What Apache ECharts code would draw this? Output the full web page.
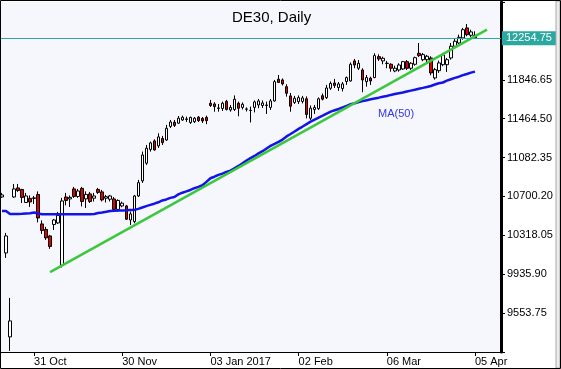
<!DOCTYPE html>
<html><head><meta charset="utf-8">
<script src="https://cdn.jsdelivr.net/npm/echarts@6/dist/echarts.min.js"></script>
<style>html,body{margin:0;padding:0;background:#fff}#c{width:561px;height:369px}</style>
</head><body><div id="c"></div>
<script>
const categories = [
'2016-10-19','2016-10-20','2016-10-21','2016-10-24','2016-10-25','2016-10-26','2016-10-27','2016-10-28','2016-10-31',
'2016-11-01','2016-11-02','2016-11-03','2016-11-04','2016-11-07','2016-11-08','2016-11-09','2016-11-10','2016-11-11',
'2016-11-14','2016-11-15','2016-11-16','2016-11-17','2016-11-18','2016-11-21','2016-11-22','2016-11-23','2016-11-24',
'2016-11-25','2016-11-28','2016-11-29','2016-11-30',
'2016-12-01','2016-12-02','2016-12-05','2016-12-06','2016-12-07','2016-12-08','2016-12-09','2016-12-12','2016-12-13',
'2016-12-14','2016-12-15','2016-12-16','2016-12-19','2016-12-20','2016-12-21','2016-12-22','2016-12-23','2016-12-27',
'2016-12-28','2016-12-29','2016-12-30',
'2017-01-03','2017-01-04','2017-01-05','2017-01-06','2017-01-09','2017-01-10','2017-01-11','2017-01-12','2017-01-13',
'2017-01-16','2017-01-17','2017-01-18','2017-01-19','2017-01-20','2017-01-23','2017-01-24','2017-01-25','2017-01-26',
'2017-01-27','2017-01-30','2017-01-31',
'2017-02-01','2017-02-02','2017-02-03','2017-02-06','2017-02-07','2017-02-08','2017-02-09','2017-02-10','2017-02-13',
'2017-02-14','2017-02-15','2017-02-16','2017-02-17','2017-02-20','2017-02-21','2017-02-22','2017-02-23','2017-02-24',
'2017-02-27','2017-02-28',
'2017-03-01','2017-03-02','2017-03-03','2017-03-06','2017-03-07','2017-03-08','2017-03-09','2017-03-10','2017-03-13',
'2017-03-14','2017-03-15','2017-03-16','2017-03-17','2017-03-20','2017-03-21','2017-03-22','2017-03-23','2017-03-24',
'2017-03-27','2017-03-28','2017-03-29','2017-03-30','2017-03-31',
'2017-04-03','2017-04-04','2017-04-05','2017-04-06','2017-04-07','2017-04-10','2017-04-11','2017-04-12','2017-04-13'
];
const tickLabels = {
  '2016-10-31':'31 Oct','2016-11-30':'30 Nov','2017-01-03':'03 Jan 2017',
  '2017-02-02':'02 Feb','2017-03-06':'06 Mar','2017-04-05':'05 Apr'
};
const openVals = [10695,10145,9320,10695,10784,10769,10641,10681,10681,10720,10430,10376,10312,10425,10440,10022,10695,10676,10774,10700,
10779,10676,10725,10683,10769,10745,10683,10673,10676,10573,10607,10607,10469,10453,10705,10853,11027,11162,11246,11197,
11270,11255,11388,11429,11420,11452,11457,11427,11435,11479,11467,11477,11616,11609,11565,11565,11634,11550,11555,11616,
11575,11557,11545,11575,11599,11594,11594,11575,11639,11852,11845,11779,11688,11624,11632,11634,11660,11469,11555,11563,
11690,11671,11763,11815,11771,11761,11830,11835,12032,11960,11943,11828,11862,11868,12074,12032,12007,11999,11933,11943,
11953,12025,11960,11999,12107,12044,12044,12061,11865,11936,11995,11995,12061,12176,12208,12258,12356,12284,12284];
const closeVals = [10715,10312,9477,10774,10759,10691,10705,10646,10686,10489,10366,10293,10209,10469,10514,10656,10661,10691,10700,10754,
10651,10720,10651,10705,10740,10666,10698,10705,10573,10661,10634,10476,10528,10705,10836,11108,11174,11226,11157,11285,
11229,11370,11432,11398,11469,11479,11462,11477,11469,11445,11442,11445,11594,11583,11570,11616,11555,11575,11655,11567,
11606,11560,11547,11629,11639,11619,11599,11639,11828,11820,11806,11714,11587,11665,11671,11668,11506,11567,11575,11660,
11656,11766,11811,11791,11806,11806,11868,11999,11992,12009,11845,11868,11835,12084,12051,12058,12009,11960,11960,11992,
12025,11960,12009,12064,12084,12094,12078,11914,11946,12012,12091,12044,12176,12225,12264,12339,12290,12317,12254.75];
const lowVals = [10686,10096,9182,10686,10745,10636,10636,10597,10627,10445,10332,10273,10185,10371,10430,10003,10612,10597,10686,10686,
10602,10587,10636,10651,10725,10651,10641,10651,10561,10551,10594,10469,10420,10437,10695,10833,11010,11141,11150,11177,
11206,11246,11373,11383,11413,11442,11432,11413,11422,11432,11422,11410,11580,11533,11533,11540,11545,11533,11540,11488,
11555,11535,11427,11526,11567,11570,11511,11550,11632,11815,11791,11681,11533,11609,11609,11614,11467,11452,11511,11550,
11644,11658,11747,11766,11737,11732,11796,11828,11960,11943,11724,11779,11796,11862,12032,11999,11960,11926,11921,11926,
11943,11943,11943,11985,12071,12029,12022,11891,11848,11914,11980,11924,12044,12166,12192,12241,12274,12264,12251];
const highVals = [10735,10342,9703,10823,10823,10774,10735,10710,10705,10750,10465,10401,10322,10479,10548,10686,10735,10710,10794,10774,
10794,10750,10745,10735,10784,10764,10715,10715,10695,10671,10649,10617,10551,10715,10863,11141,11206,11239,11262,11321,
11295,11403,11452,11452,11491,11494,11484,11484,11481,11491,11481,11494,11649,11626,11609,11632,11649,11599,11693,11632,
11624,11575,11583,11644,11658,11644,11632,11658,11845,11894,11860,11803,11717,11688,11693,11688,11683,11594,11599,11673,
11712,11796,11830,11855,11825,11825,11879,12017,12051,12041,11960,11894,11877,12107,12097,12074,12032,12009,11985,12009,
12032,12041,12019,12074,12208,12110,12091,12078,11963,12035,12110,12061,12208,12251,12290,12356,12395,12339,12323];
const ma50 = [10558,10558,10528,10528,10528,10530,10533,10535,10543,10533,10526,10526,10526,10526,10526,10526,10526,10526,10526,10526,
10526,10526,10526,10528,10538,10543,10550,10558,10560,10561,10563,10565,10568,10568,10578,10592,10605,10617,10629,10643,
10661,10671,10686,10695,10720,10737,10750,10764,10781,10794,10810,10843,10879,10894,10912,10925,10941,10954,10977,11000,
11025,11053,11076,11098,11123,11145,11172,11197,11216,11236,11259,11290,11314,11339,11364,11387,11411,11435,11455,11475,
11494,11514,11534,11547,11560,11575,11590,11606,11616,11627,11637,11646,11655,11663,11671,11680,11688,11698,11706,11714,
11722,11731,11740,11749,11759,11767,11776,11786,11800,11812,11820,11838,11852,11865,11877,11892,11904,11917,11927];
const trendIdx = [12, 121];
const trendVals = [9956, 12340];
const lastPrice = 12254.75;
const yMin = 9171.6, yMax = 12610.95, yStep = 382.15;

const candleData = openVals.map((o, i) => [o, closeVals[i], lowVals[i], highVals[i]]);
const trendData = categories.map(() => null);
trendIdx.forEach((k, j) => { trendData[k] = trendVals[j]; });
const FONT = 'Liberation Sans, Arial, sans-serif';
const isTick = (i) => tickLabels[categories[i]] !== undefined;

const chart = echarts.init(document.getElementById('c'), null, {renderer: 'canvas'});
chart.setOption({
  backgroundColor: '#ffffff',
  animation: false,
  title: {
    text: 'DE30, Daily', left: 227, top: 5,
    textStyle: {fontSize: 15, fontWeight: 'normal', color: '#000', fontFamily: FONT}
  },
  grid: {left: 0, right: 60, top: 2, height: 350, show: true, backgroundColor: '#F5F7FD', borderWidth: 0},
  xAxis: {
    type: 'category', data: categories, boundaryGap: true,
    axisLine: {show: true, lineStyle: {color: '#000', width: 1}},
    axisTick: {show: true, alignWithLabel: true, length: 4, interval: (i) => isTick(i), lineStyle: {color: '#000'}},
    axisLabel: {interval: (i) => isTick(i), formatter: (v) => tickLabels[v] || '', align: 'left', margin: 4,
      fontSize: 11, color: '#000', fontFamily: FONT},
    splitLine: {show: false}
  },
  yAxis: {
    type: 'value', position: 'right', min: yMin, max: yMax, interval: yStep, scale: true,
    axisLine: {show: true, lineStyle: {color: '#000', width: 3}},
    axisTick: {show: true, length: 4, lineStyle: {color: '#000'}},
    axisLabel: {margin: 6, fontSize: 11, color: '#000', fontFamily: FONT,
      formatter: (v) => (v > yMin + 1 && v < 12000) ? v.toFixed(2) : ''},
    splitLine: {show: false}
  },
  series: [
    {
      type: 'candlestick', data: candleData, barWidth: 3,
      itemStyle: {color: '#FFFFFF', color0: '#E00000', borderColor: '#000', borderColor0: '#000', borderWidth: 1},
      markLine: {
        silent: true, symbol: ['none', 'none'],
        lineStyle: {color: '#2BA8A0', width: 1, type: 'solid'},
        label: {show: true, position: 'end', formatter: lastPrice.toFixed(2), color: '#fff',
          backgroundColor: '#2BA8A0', padding: [2, 6, 1, 4], fontSize: 11, fontFamily: FONT, distance: 1},
        data: [{yAxis: lastPrice}]
      }
    },
    {
      type: 'line', data: ma50, showSymbol: false, symbol: 'none',
      lineStyle: {color: '#1414E6', width: 2.5}
    },
    {
      type: 'line', data: trendData, connectNulls: true, showSymbol: false, symbol: 'none',
      lineStyle: {color: '#3CC83C', width: 2.5}
    }
  ],
  graphic: [
    {type: 'text', left: 378, top: 108, style: {text: 'MA(50)', fill: '#3535E8', font: '11px ' + FONT}},
    {type: 'rect', z: 100, shape: {x: 556, y: 1, width: 4, height: 367}, style: {fill: '#ECECEC', stroke: '#A8A8A8', lineWidth: 1}, silent: true},
    {type: 'rect', z: 101, shape: {x: 0.5, y: 0.5, width: 560, height: 368}, style: {fill: 'none', stroke: '#000', lineWidth: 1}, silent: true}
  ]
});
</script>
</body></html>
